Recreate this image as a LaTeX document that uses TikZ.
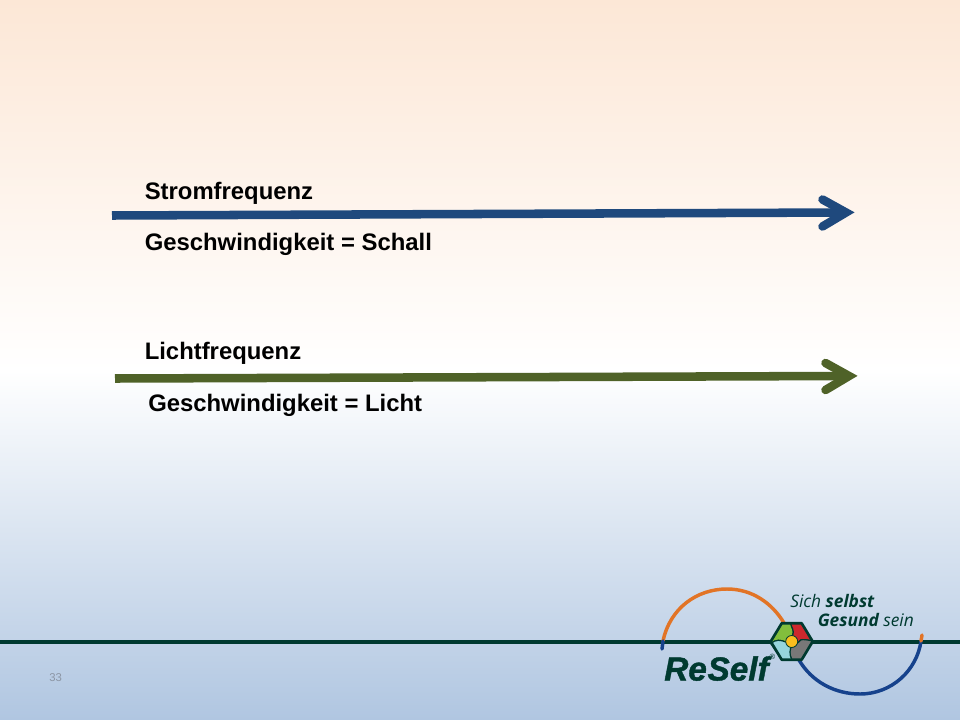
\documentclass[tikz,border=0pt]{standalone}
\usepackage{fontspec}
\setmainfont{Liberation Sans}
\newfontfamily\logofont{Open Sans}
\newfontfamily\rsfont[BoldItalicFeatures={FakeBold=1.2}]{Liberation Sans}
\definecolor{peach}{RGB}{252,231,214}
\definecolor{bluebot}{RGB}{176,198,225}
\definecolor{arrowblue}{RGB}{31,73,125}
\definecolor{arrowgreen}{RGB}{79,98,40}
\definecolor{darkgreen}{RGB}{0,58,48}
\definecolor{logoorange}{RGB}{226,116,38}
\definecolor{logoblue}{RGB}{22,66,140}
\definecolor{piecegreen}{RGB}{130,190,60}
\definecolor{piecered}{RGB}{205,40,45}
\definecolor{piececyan}{RGB}{150,212,220}
\definecolor{piecegrey}{RGB}{120,120,120}
\definecolor{pieceyellow}{RGB}{250,190,30}
\definecolor{numgrey}{RGB}{140,150,165}
\tikzset{
  lab/.style={font=\fontsize{17.9}{20}\selectfont\bfseries,text=black,anchor=base west,inner sep=0pt},
  arrowline/.style={line width=6.4pt,line join=round},
  arrowhead/.style={line width=6.4pt,line cap=round,line join=miter},
  piece/.style={draw=darkgreen,line width=0.9pt,line join=round},
  slogan/.style={font=\logofont\fontsize{13}{14}\selectfont,text=darkgreen,anchor=base west,inner sep=0pt},
}
\begin{document}
\begin{tikzpicture}[x=0.75pt,y=-0.75pt]
\useasboundingbox (0,0) rectangle (960,720);
\shade[top color=peach,bottom color=white] (0,0) rectangle (960,371);
\shade[top color=white,bottom color=bluebot] (0,370) rectangle (960,720);
% arrows
\coordinate (a1s) at (112,215.5);
\coordinate (a1e) at (844,212.5);
\coordinate (a1t) at (822.5,199.5);
\coordinate (a1b) at (822.5,226.5);
\draw[arrowline,arrowblue] (a1s) -- (a1e);
\draw[arrowhead,arrowblue] (a1t) -- (846,212.5) -- (a1b);
\coordinate (a2s) at (115,378.5);
\coordinate (a2e) at (847,376);
\coordinate (a2t) at (825.5,363);
\coordinate (a2b) at (825.5,390);
\draw[arrowline,arrowgreen] (a2s) -- (a2e);
\draw[arrowhead,arrowgreen] (a2t) -- (849,376) -- (a2b);
% labels
\node[lab] (t1) at (144.5,200) {Stromfrequenz};
\node[lab] (t2) at (144.5,251) {Geschwindigkeit = Schall};
\node[lab] (t3) at (144.5,359) {Lichtfrequenz};
\node[lab] (t4) at (148,411.5) {Geschwindigkeit = Licht};
% footer
\draw[darkgreen,line width=3pt] (0,641.5) -- (960,641.5);
\node[font=\fontsize{8.5}{10}\selectfont,text=numgrey,anchor=base west,inner sep=0pt] (num) at (49,681) {33};
% logo arcs
\draw[logoorange,line width=2.6pt] (663,641) .. controls (670,608) and (697,589) .. (727,589) .. controls (752,589) and (772,603) .. (784,623);
\draw[logoblue,line width=2.6pt,line cap=round] (663,641) -- (662,649);
\draw[logoblue,line width=2.6pt] (799,660) .. controls (812,682) and (835,694) .. (860,694) .. controls (892,694) and (917,670) .. (921,641);
\draw[logoorange,line width=2.6pt,line cap=round] (921,641) -- (922,635);
% hexagon
\fill[piecegreen,piece] (770.7,641.5) -- (781.7,623.3) -- (790.7,623.3) .. controls (791.5,628) and (794,630) .. (793.3,632) -- (791.7,641.7) -- (785.7,642) .. controls (781,640) and (776,639) .. (770.7,643.5) -- cycle;
\fill[piecered,piece] (790.7,623.3) -- (801.7,623.3) -- (812.7,641) .. controls (808,640) and (803,639) .. (800.7,640) -- (797.3,643.3) -- (791.7,641.7) -- (793.3,632) .. controls (794,630) and (791.5,628) .. (790.7,623.3) -- cycle;
\fill[piecegrey,piece] (812.7,641) -- (801.7,659.7) -- (791.7,659.7) .. controls (790.5,656) and (789.5,654) .. (790,651.7) -- (791.7,641.7) -- (797.3,643.3) -- (800.7,640) .. controls (803,639) and (808,640) .. (812.7,641) -- cycle;
\fill[piececyan,piece] (770.7,643.5) .. controls (776,639) and (781,640) .. (785.7,642) -- (791.7,641.7) -- (790,651.7) .. controls (789.5,654) and (790.5,656) .. (791.7,659.7) -- (781.7,659.7) -- cycle;
\draw[darkgreen,line width=2pt,line join=round] (770.7,641.5) -- (781.7,623.3) -- (801.7,623.3) -- (812.7,641.5) -- (801.7,659.7) -- (781.7,659.7) -- cycle;
\fill[pieceyellow,draw=darkgreen,line width=0.6pt] (791.7,641.5) circle (6);
% logo text
\node[slogan] (s1) at (790,607) {\itshape Sich \bfseries selbst};
\node[slogan] (s2) at (817.5,626) {\itshape\bfseries Gesund \mdseries sein};
\node[font=\rsfont\fontsize{25}{28}\selectfont\bfseries\itshape,text=darkgreen,anchor=base west,inner sep=0pt] (rs) at (664,680.5) {Re\kern0.5pt Self};
\node[font=\logofont\fontsize{5.5}{6}\selectfont,text=darkgreen,anchor=base west,inner sep=0pt] (rr) at (769,659) {®};
\end{tikzpicture}
\end{document}
